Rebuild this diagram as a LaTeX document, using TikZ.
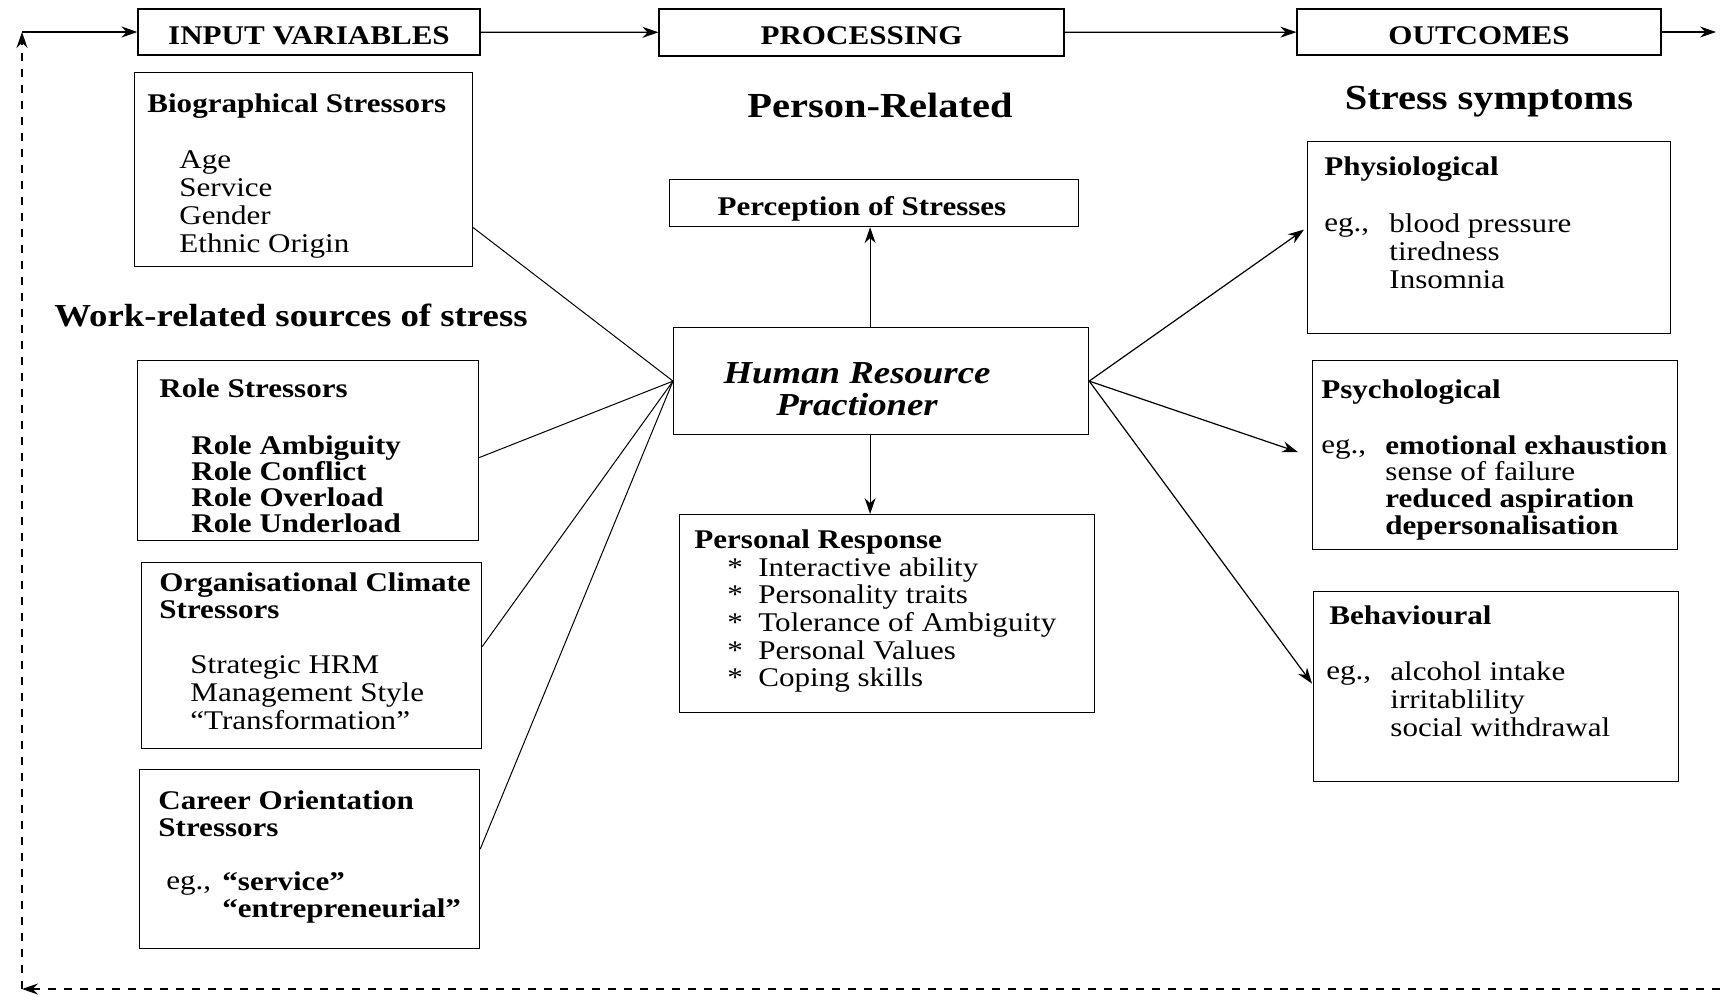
\documentclass[tikz,border=0pt]{standalone}
\usepackage{fontspec}
\setmainfont{Liberation Serif}[FakeStretch=1.15]
\usetikzlibrary{arrows.meta, positioning}

\tikzset{
  box/.style={draw, line width=0.6pt, inner sep=0pt},
  hdr/.style={box, text height=12pt, text depth=0pt, font=\fontsize{13.5}{14}\selectfont\bfseries},
  txt/.style={inner sep=0pt, align=left, anchor=north west},
  ttl/.style={inner sep=0pt, anchor=base west, font=\fontsize{13.5}{14}\selectfont\bfseries},
  plain/.style={inner sep=0pt, anchor=base west},
  big/.style={inner sep=0pt, anchor=base, font=\fontsize{17.6}{20}\selectfont\bfseries},
  arr/.style={line width=0.6pt, -{Stealth[length=8pt, width=5.5pt]}},
  link/.style={line width=0.5pt},
}

\begin{document}
\begin{tikzpicture}[x=0.5pt, y=-0.5pt, font=\fontsize{13.5}{14}\selectfont]
\useasboundingbox (0,0) rectangle (1722,996);

% header row
\node[hdr, minimum width=171pt, minimum height=23pt] (inp) at (309,32) {INPUT VARIABLES};
\node[hdr, minimum width=202.5pt, minimum height=23.5pt] (proc) at (861.5,32.5) {PROCESSING};
\node[hdr, minimum width=182pt, minimum height=23pt] (outc) at (1479,32) {OUTCOMES};

\coordinate (tl) at (22,32);
\coordinate (bl) at (22,989);
\coordinate (br) at (1720,989);
\coordinate (fwd) at (1716,32);

\node[big] (prel) at (880,117) {Person-Related};
\node[big] (ssym) at (1489,109) {Stress symptoms};
\node[big, font=\fontsize{16}{18}\selectfont\bfseries] (wrel) at (291,326) {Work-related sources of stress};

% inputs
\node[box, anchor=north west, minimum width=169pt, minimum height=97pt] (bio) at (134,72) {};
\node[ttl] (bio-t) at (147,112) {Biographical Stressors};
\node[txt, font=\fontsize{13.5}{13.9}\selectfont] (bio-i) at (179,150.5) {Age\\Service\\Gender\\Ethnic Origin};

\node[box, anchor=north west, minimum width=170.5pt, minimum height=90pt] (role) at (137,360) {};
\node[ttl] (role-t) at (159,397) {Role Stressors};
\node[txt, font=\fontsize{13.5}{13}\selectfont\bfseries] (role-i) at (191,435) {Role Ambiguity\\Role Conflict\\Role Overload\\Role Underload};

\node[box, anchor=north west, minimum width=170pt, minimum height=93pt] (org) at (141,562) {};
\node[txt, font=\fontsize{13.5}{13.75}\selectfont\bfseries] (org-t) at (159,572) {Organisational Climate\\Stressors};
\node[txt, font=\fontsize{13.5}{14}\selectfont] (org-i) at (190,655) {Strategic HRM\\Management Style\\``Transformation''};

\node[box, anchor=north west, minimum width=170pt, minimum height=89.5pt] (car) at (139,769) {};
\node[txt, font=\fontsize{13.5}{13.75}\selectfont\bfseries] (car-t) at (158,790) {Career Orientation\\Stressors};
\node[plain] (car-eg) at (166,889) {eg.,};
\node[txt, font=\fontsize{13.5}{13.5}\selectfont\bfseries] (car-i) at (222,871) {``service''\\``entrepreneurial''};

% processing
\node[box, anchor=north west, minimum width=204.5pt, minimum height=23.5pt] (perc) at (669,179) {};
\node[inner sep=0pt, font=\fontsize{13.5}{14}\selectfont\bfseries] (perc-t) at (862,208.5) {Perception of Stresses};

\node[box, anchor=north west, minimum width=207.5pt, minimum height=53.5pt] (hrp) at (673,327) {};
\node[inner sep=0pt, align=center, font=\fontsize{16}{16}\selectfont\bfseries\itshape] (hrp-t) at (857,389) {Human Resource\\Practioner};

\node[box, anchor=north west, minimum width=207.5pt, minimum height=99pt] (resp) at (679,514) {};
\node[ttl] (resp-t) at (694,548) {Personal Response};
\node[txt, font=\fontsize{13.5}{13.85}\selectfont] (resp-i) at (727,557) {\makebox[15.5pt][l]{*}Interactive ability\\
  \makebox[15.5pt][l]{*}Personality traits\\
  \makebox[15.5pt][l]{*}Tolerance of Ambiguity\\
  \makebox[15.5pt][l]{*}Personal Values\\
  \makebox[15.5pt][l]{*}Coping skills};

% outcomes
\node[box, anchor=north west, minimum width=181.5pt, minimum height=96pt] (phys) at (1307,141) {};
\node[ttl] (phys-t) at (1324,175) {Physiological};
\node[plain] (phys-eg) at (1324,231) {eg.,};
\node[txt, font=\fontsize{13.5}{14}\selectfont] (phys-i) at (1389,213) {blood pressure\\tiredness\\Insomnia};

\node[box, anchor=north west, minimum width=182.5pt, minimum height=94.5pt] (psy) at (1312,360) {};
\node[ttl] (psy-t) at (1321,398) {Psychological};
\node[plain] (psy-eg) at (1321,453) {eg.,};
\node[txt, font=\fontsize{13.5}{13.35}\selectfont] (psy-i) at (1385,435) {\textbf{emotional exhaustion}\\sense of failure\\\textbf{reduced aspiration}\\\textbf{depersonalisation}};

\node[box, anchor=north west, minimum width=182.5pt, minimum height=95pt] (beh) at (1313,591) {};
\node[ttl] (beh-t) at (1329,624) {Behavioural};
\node[plain] (beh-eg) at (1326,679) {eg.,};
\node[txt, font=\fontsize{13.5}{14}\selectfont] (beh-i) at (1390,661) {alcohol intake\\irritablility\\social withdrawal};

% connectors
\draw[arr] (tl) -- (inp.west);
\draw[arr] (inp) -- (proc);
\draw[arr] (proc) -- (outc);
\draw[arr] (outc.east) -- (fwd);
\draw[arr, dashed, dash pattern=on 4pt off 4pt] (br) -- (bl);
\draw[arr, dashed, dash pattern=on 4pt off 4pt] (bl) -- (tl);

\draw[link] ([shift={(0,58)}]bio.east) -- (hrp.west);
\draw[link] ([shift={(0,7)}]role.east) -- (hrp.west);
\draw[link] ([shift={(0,-9)}]org.east) -- (hrp.west);
\draw[link] ([shift={(0,-10)}]car.east) -- (hrp.west);

\draw[arr] ([xshift=-5.5pt]hrp.north) -- ([xshift=-5.5pt]hrp.north |- perc.south);
\draw[arr] ([xshift=-5.5pt]hrp.south) -- ([xshift=-5.5pt]hrp.south |- resp.north);

\draw[arr] (hrp.east) -- ([shift={(-3,-8)}]phys.west);
\draw[arr] (hrp.east) -- ([shift={(-14,-3)}]psy.west);
\draw[arr] (hrp.east) -- ([shift={(-1,-3)}]beh.west);
\end{tikzpicture}
\end{document}
